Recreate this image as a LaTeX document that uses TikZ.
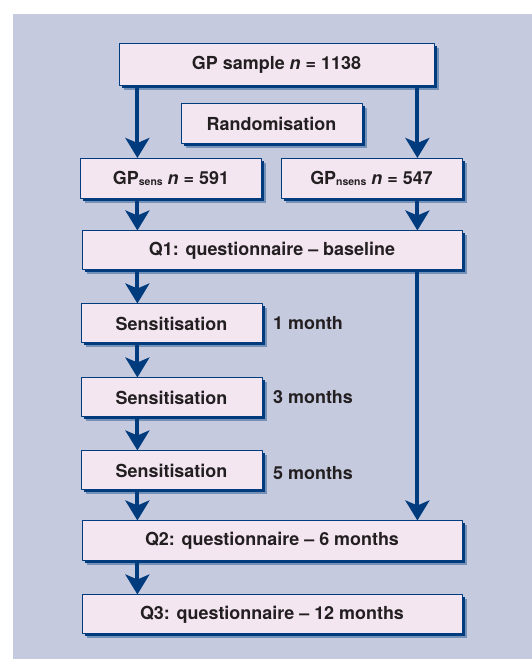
\documentclass[tikz,border=0pt]{standalone}
\usepackage{fontspec}
\setmainfont{TeX Gyre Heros}
\usetikzlibrary{arrows.meta,shadows}
\definecolor{bgcol}{HTML}{C5CADF}
\definecolor{boxcol}{HTML}{F3E6F1}
\definecolor{navy}{HTML}{003C7D}
\definecolor{txtcol}{HTML}{231F20}
\newcommand{\grp}[1]{\raisebox{-1.5bp}{\fontsize{10.5}{10.5}\selectfont #1}}
\begin{document}
\begin{tikzpicture}[>={Stealth[length=20bp,width=24bp,inset=5bp]},line join=bevel,
  box/.style={draw=navy,line width=1bp,fill=boxcol,rectangle,inner sep=0pt,
    minimum height=40bp,
    drop shadow={shadow xshift=4.5bp,shadow yshift=-4.5bp,fill=navy,opacity=.4},
    drop shadow={shadow xshift=2.5bp,shadow yshift=-2.5bp,fill=navy,opacity=1}},
  flow/.style={->,draw=navy,line width=4bp},
  every node/.style={font=\fontsize{18}{21}\selectfont\bfseries,text=txtcol}]
%%
\useasboundingbox (0bp,0bp) rectangle (532bp,659bp);
\fill [bgcol] (13bp,0bp) rectangle (532bp,645bp);
  \coordinate (lcol) at (137.4bp,0bp);
  \coordinate (rcol) at (417.4bp,0bp);
  \node (sample) at (276.5bp,594bp) [box,minimum width=315bp,minimum height=42bp] {GP sample \textit{n} = 1138};
  \node (rand) at (271.5bp,535.5bp) [box,minimum width=181bp] {Randomisation};
  \node (GPs) at (171bp,480.5bp) [box,minimum width=181bp] {GP\grp{sens} \textit{n} = 591};
  \node (GPn) at (371.5bp,480.5bp) [box,minimum width=181bp] {GP\grp{nsens} \textit{n} = 547};
  \node (Q1) at (272bp,408.5bp) [box,minimum width=380bp,minimum height=39bp] {Q1: questionnaire -- baseline};
  \node (S1) at (171.5bp,335.5bp) [box,minimum width=181bp,minimum height=39bp] {Sensitisation};
  \node (S3) at (171.5bp,261.5bp) [box,minimum width=181bp,minimum height=39bp] {Sensitisation};
  \node (S5) at (171.5bp,188.5bp) [box,minimum width=181bp,minimum height=39bp] {Sensitisation};
  \node (Q2) at (272bp,118bp) [box,minimum width=380bp] {Q2: questionnaire -- 6 months};
  \node (Q3) at (272bp,44.5bp) [box,minimum width=380bp,minimum height=39bp] {Q3: questionnaire -- 12 months};
  \node (m1) at (273bp,336bp) [anchor=west,inner sep=0pt] {1 month};
  \node (m3) at (273bp,262bp) [anchor=west,inner sep=0pt] {3 months};
  \node (m5) at (273bp,186bp) [anchor=west,inner sep=0pt] {5 months};
%
  \draw [flow] (sample.south -| lcol) -- (GPs.north -| lcol);
  \draw [flow] (sample.south -| rcol) -- (GPn.north -| rcol);
  \draw [flow] (GPs.south -| lcol) -- (Q1.north -| lcol);
  \draw [flow] (GPn.south -| rcol) -- (Q1.north -| rcol);
  \draw [flow] (Q1.south -| lcol) -- (S1.north -| lcol);
  \draw [flow] (S1.south -| lcol) -- (S3.north -| lcol);
  \draw [flow] (S3.south -| lcol) -- (S5.north -| lcol);
  \draw [flow] (S5.south -| lcol) -- (Q2.north -| lcol);
  \draw [flow] (Q1.south -| rcol) -- (Q2.north -| rcol);
  \draw [flow] (Q2.south -| lcol) -- (Q3.north -| lcol);
%
\end{tikzpicture}
\end{document}
